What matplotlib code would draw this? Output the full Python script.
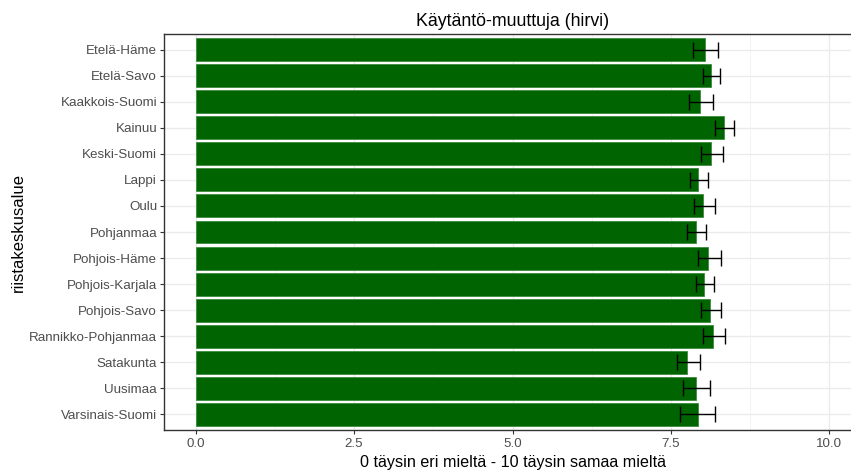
import numpy as np
import matplotlib
matplotlib.use('Agg')
import matplotlib.pyplot as plt
from matplotlib.ticker import MultipleLocator

plt.rcParams['font.family'] = ['Liberation Sans', 'DejaVu Sans']

regions = ['Etelä-Häme', 'Etelä-Savo', 'Kaakkois-Suomi', 'Kainuu', 'Keski-Suomi',
           'Lappi', 'Oulu', 'Pohjanmaa', 'Pohjois-Häme', 'Pohjois-Karjala',
           'Pohjois-Savo', 'Rannikko-Pohjanmaa', 'Satakunta', 'Uusimaa', 'Varsinais-Suomi']
means = [8.04, 8.14, 7.96, 8.34, 8.14, 7.93, 8.01, 7.89, 8.09, 8.02, 8.12, 8.16, 7.75, 7.89, 7.92]
ci_low = [7.85, 8.00, 7.78, 8.20, 7.98, 7.80, 7.86, 7.75, 7.93, 7.89, 7.97, 8.00, 7.59, 7.69, 7.65]
ci_high = [8.25, 8.28, 8.16, 8.50, 8.32, 8.08, 8.19, 8.05, 8.29, 8.18, 8.29, 8.35, 7.96, 8.12, 8.19]

fig = plt.figure(figsize=(8.51, 4.72), dpi=100)
W, H = 851, 472
# panel runs off the right edge of the image
ax = fig.add_axes([164 / W, 1 - 430 / H, (861 - 164) / W, (430 - 34) / H])

n = len(regions)
pos = np.arange(n)[::-1] + 1
means = np.array(means)
lo = means - np.array(ci_low)
hi = np.array(ci_high) - means

ax.barh(pos, means, height=0.88, color='#006400', edgecolor='#3d8a3d', linewidth=0.6, zorder=2)
ax.errorbar(means, pos, xerr=[lo, hi], fmt='none', ecolor='black', elinewidth=1.0,
            capsize=6, capthick=1.0, zorder=3)

ax.set_xlim(-0.5, 10.5)
ax.set_ylim(0.4, n + 0.6)
ax.xaxis.set_minor_locator(MultipleLocator(1.25))
ax.set_xticks([0, 2.5, 5, 7.5, 10])
ax.set_xticklabels(['0.0', '2.5', '5.0', '7.5', '10.0'])
ax.set_yticks(pos)
ax.set_yticklabels(regions)

ax.grid(which='major', color='#EBEBEB', linewidth=1.0, zorder=0)
ax.grid(which='minor', axis='x', color='#F3F3F3', linewidth=0.7, zorder=0)
ax.set_axisbelow(True)
for s in ax.spines.values():
    s.set_color('#333333')
    s.set_linewidth(1.0)

ax.tick_params(axis='both', which='major', length=3, width=0.8, color='#333333',
               labelsize=9.6, labelcolor='#4D4D4D', pad=2)
ax.tick_params(axis='x', which='major', pad=3)
ax.tick_params(axis='both', which='minor', length=0)

ax.set_title('Käytäntö-muuttuja (hirvi)', fontsize=12.8, color='black', pad=6)
ax.set_xlabel('0 täysin eri mieltä - 10 täysin samaa mieltä', fontsize=11.6, labelpad=3)
ax.set_ylabel('riistakeskusalue', fontsize=12, labelpad=2)

fig.savefig('out.png', dpi=100)
